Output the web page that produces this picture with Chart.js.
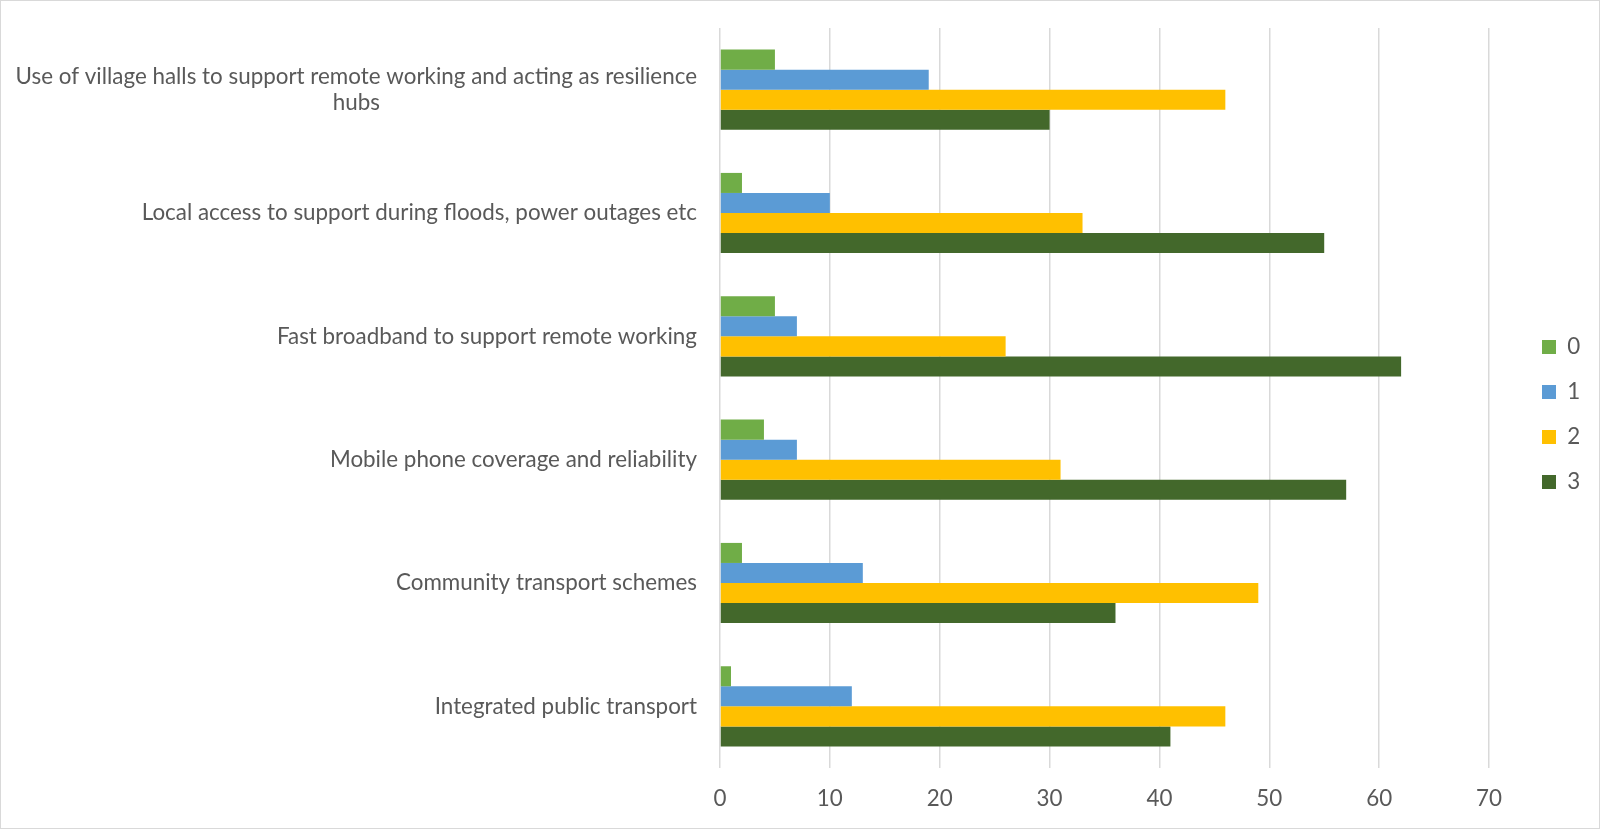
<!DOCTYPE html>
<html><head><meta charset="utf-8">
<script src="https://cdn.jsdelivr.net/npm/chart.js@4/dist/chart.umd.min.js"></script>
<style>html,body{margin:0;padding:0;background:#fff}#wrap{width:1600px;height:829px;position:relative}</style>
</head><body><div id="wrap"><canvas id="c"></canvas></div>
<script>
const categories = [
  ["Use of village halls to support remote working and acting as resilience", "hubs"],
  ["Local access to support during floods, power outages etc"],
  ["Fast broadband to support remote working"],
  ["Mobile phone coverage and reliability"],
  ["Community transport schemes"],
  ["Integrated public transport"]
];
const seriesNames = ["0", "1", "2", "3"];
const series0 = [5, 2, 5, 4, 2, 1];
const series1 = [19, 10, 7, 7, 13, 12];
const series2 = [46, 33, 26, 31, 49, 46];
const series3 = [30, 55, 62, 57, 36, 41];
const xTicks = [0, 10, 20, 30, 40, 50, 60, 70];
const colors = ["#70AD47", "#5B9BD5", "#FFC000", "#43682B"];

const FONT = "Lato";
const FS = 22.4;
const TXT = "#595959";
const BOX = 14;
const LEG_PAD = 45 - FS;       // item spacing 45px
const PLOT_RIGHT = 1489;
const LEG_BOX_X = 1542;

// width of the legend texts, to place the legend box where the reference has it
const mctx = document.createElement('canvas').getContext('2d');
mctx.font = FS + "px " + FONT;
const legTextW = Math.max(...seriesNames.map(s => mctx.measureText(s).width));
const legendWidth = LEG_PAD + BOX + FS / 2 + legTextW + 10;
const rightPad = 1600 - (LEG_BOX_X - LEG_PAD) - legendWidth;

const yLabelPlugin = {
  id: 'yLabels',
  afterDraw(chart) {
    const ctx = chart.ctx;
    const ys = chart.scales.y;
    const right = chart.chartArea.left - 23;
    const lh = 26.5;
    ctx.save();
    ctx.font = FS + "px " + FONT;
    ctx.fillStyle = TXT;
    ctx.textBaseline = "middle";
    ctx.textAlign = "center";
    categories.forEach((lines, i) => {
      const cy = ys.getPixelForTick(i);
      const w = Math.max(...lines.map(l => ctx.measureText(l).width));
      const cx = right - w / 2;
      lines.forEach((l, j) => {
        ctx.fillText(l, cx, cy + (j - (lines.length - 1) / 2) * lh);
      });
    });
    ctx.restore();
  }
};
const borderPlugin = {
  id: 'outerBorder',
  beforeDraw(chart) {
    const ctx = chart.ctx;
    ctx.save();
    ctx.fillStyle = "#fff";
    ctx.fillRect(0, 0, chart.width, chart.height);
    ctx.strokeStyle = "#d9d9d9";
    ctx.lineWidth = 1;
    ctx.strokeRect(0.5, 0.5, chart.width - 1, chart.height - 1);
    ctx.restore();
  }
};

const allSeries = [series0, series1, series2, series3];
new Chart(document.getElementById('c'), {
  type: 'bar',
  data: {
    labels: categories,
    datasets: allSeries.map((d, i) => ({
      label: seriesNames[i],
      data: d,
      backgroundColor: colors[i],
      borderWidth: 0,
      categoryPercentage: 0.65,
      barPercentage: 1.0
    }))
  },
  options: {
    indexAxis: 'y',
    responsive: true,
    maintainAspectRatio: false,
    animation: false,
    layout: { padding: { top: 0, left: 0, right: rightPad, bottom: 0 } },
    plugins: {
      title: { display: true, text: '', font: { size: 10, lineHeight: 1 }, padding: { top: 18, bottom: 0 } },
      tooltip: { enabled: false },
      legend: {
        position: 'right',
        align: 'center',
        labels: {
          boxWidth: BOX, boxHeight: BOX, padding: LEG_PAD,
          color: TXT,
          font: { family: FONT, size: FS }
        }
      }
    },
    scales: {
      x: {
        min: 0, max: 70,
        afterBuildTicks(s) { s.ticks = xTicks.map(v => ({ value: v })); },
        afterFit(s) { s.height = 61; },
        grid: { color: "#d9d9d9", lineWidth: 1.5, drawTicks: false },
        border: { display: false },
        ticks: { color: TXT, font: { family: FONT, size: FS }, padding: 17 }
      },
      y: {
        afterFit(s) { s.width = 720; },
        grid: { display: false },
        border: { display: false },
        ticks: { display: false }
      },
      yPad: {
        type: 'category',
        position: 'right',
        afterFit(s) { s.width = LEG_BOX_X - PLOT_RIGHT - LEG_PAD; },
        grid: { display: false },
        border: { display: false },
        ticks: { display: false }
      }
    }
  },
  plugins: [borderPlugin, yLabelPlugin]
});
</script>
</body></html>
